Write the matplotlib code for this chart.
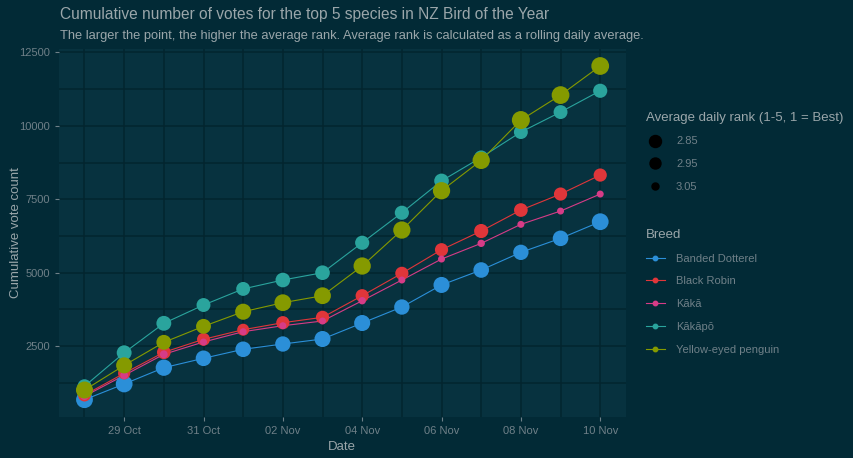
import numpy as np
import pandas as pd
import matplotlib
matplotlib.use("Agg")
import matplotlib.pyplot as plt
import matplotlib.dates as mdates
from matplotlib.lines import Line2D

BG = "#022a36"; PANEL = "#07323f"; GRID = "#03252f"
TXT = "#9aa6aa"; TICK = "#6f8088"

dates = pd.date_range("2019-10-28", "2019-11-10", freq="D")
breeds = ["Banded Dotterel", "Black Robin", "Kākā", "Kākāpō", "Yellow-eyed penguin"]
colors = ["#2b8fd8", "#e0363a", "#d63c87", "#2aa49d", "#859a00"]

votes_dotterel = [670, 1206, 1761, 2081, 2388, 2568, 2738, 3283, 3828, 4580, 5089, 5691, 6168, 6734]
votes_robin = [830, 1570, 2285, 2728, 3055, 3294, 3477, 4213, 4976, 5780, 6417, 7132, 7677, 8324]
votes_kaka = [790, 1500, 2217, 2636, 2987, 3191, 3351, 4043, 4748, 5463, 5998, 6645, 7098, 7677]
votes_kakapo = [1130, 2270, 3273, 3896, 4445, 4748, 4997, 6018, 7040, 8125, 8926, 9789, 10470, 11196]
votes_penguin = [1000, 1840, 2626, 3170, 3668, 3975, 4213, 5225, 6451, 7790, 8824, 10198, 11049, 12040]

rank_dotterel = [2.65, 2.65, 2.67, 2.70, 2.70, 2.71, 2.68, 2.68, 2.71, 2.68, 2.70, 2.71, 2.70, 2.65]
rank_robin = [2.81, 2.84, 2.78, 2.81, 2.85, 2.80, 2.80, 2.80, 2.80, 2.80, 2.76, 2.78, 2.80, 2.80]
rank_kaka = [3.03, 3.03, 3.03, 3.05, 3.05, 3.05, 3.05, 3.04, 3.05, 3.05, 3.04, 3.05, 3.05, 3.05]
rank_kakapo = [2.77, 2.73, 2.73, 2.77, 2.77, 2.74, 2.74, 2.76, 2.76, 2.74, 2.77, 2.77, 2.77, 2.76]
rank_penguin = [2.64, 2.68, 2.73, 2.73, 2.68, 2.65, 2.65, 2.63, 2.63, 2.63, 2.63, 2.60, 2.61, 2.61]

votes = [votes_dotterel, votes_robin, votes_kaka, votes_kakapo, votes_penguin]
ranks = [rank_dotterel, rank_robin, rank_kaka, rank_kakapo, rank_penguin]
rank_breaks = [2.85, 2.95, 3.05]

DPI = 100
def diam(r):
    # reversed size scale: lower (better) rank -> bigger point, in pixels
    return np.interp(r, [2.60, 2.85, 2.95, 3.05], [18, 12, 11, 7])
def area(r):
    return (diam(np.asarray(r)) * 72 / DPI) ** 2

plt.rcParams["font.family"] = ["Liberation Sans", "DejaVu Sans"]
fig = plt.figure(figsize=(8.54, 4.58), dpi=DPI, facecolor=BG)
ax = fig.add_axes([58.7 / 854, 41.3 / 458, 567.3 / 854, 367.4 / 458])
ax.set_facecolor(PANEL)
for s in ax.spines.values():
    s.set_visible(False)

for v, c in zip(votes, colors):
    ax.plot(dates, v, color=c, lw=0.8, zorder=2)
for v, r, c in zip(votes, ranks, colors):
    ax.scatter(dates, v, s=area(r), color=c, edgecolors="none", zorder=3)

span = (dates[-1] - dates[0]) * 0.05
ax.set_xlim(dates[0] - span, dates[-1] + span)
lo, hi = 660, 12040
ax.set_ylim(lo - 0.05 * (hi - lo), hi + 0.05 * (hi - lo))
ax.set_yticks([2500, 5000, 7500, 10000, 12500])
ax.set_yticks([1250, 3750, 6250, 8750, 11250], minor=True)
ax.xaxis.set_major_locator(mdates.DayLocator(bymonthday=[29, 31, 2, 4, 6, 8, 10]))
ax.xaxis.set_minor_locator(mdates.DayLocator(bymonthday=[28, 30, 1, 3, 5, 7, 9]))
ax.xaxis.set_major_formatter(mdates.DateFormatter("%d %b"))
ax.grid(True, which="both", color=GRID, lw=1.1, zorder=0)
ax.set_axisbelow(True)
ax.tick_params(which="major", length=3, color=TICK, labelcolor=TICK, labelsize=8)
ax.tick_params(which="minor", length=0)
ax.tick_params(axis="x", pad=4)

ax.set_xlabel("Date", color=TXT, fontsize=9.5, labelpad=3)
ax.set_ylabel("Cumulative vote count", color=TXT, fontsize=9.5)
ax.yaxis.set_label_coords(-0.065, 0.5)

fig.text(60 / 854, 1 - 15 / 458, "Cumulative number of votes for the top 5 species in NZ Bird of the Year",
         color=TXT, fontsize=11.2, va="center", ha="left")
fig.text(60 / 854, 1 - 36 / 458, "The larger the point, the higher the average rank. Average rank is calculated as a rolling daily average.",
         color=TXT, fontsize=9.27, va="center", ha="left")

# size legend
size_handles = [Line2D([], [], ls="none", marker="o", color="black",
                       markersize=diam(r) * 72 / DPI) for r in rank_breaks]
leg_kw = dict(loc="upper left", frameon=False, fontsize=8, title_fontsize=9.5,
              labelcolor=TICK, handlelength=1.7, handletextpad=1.0,
              labelspacing=1.15, alignment="left")
leg1 = fig.legend(size_handles, [f"{r:.2f}" for r in rank_breaks],
                  title="Average daily rank (1-5, 1 = Best)",
                  bbox_to_anchor=(636 / 854, 1 - 102 / 458), **leg_kw)
leg1.get_title().set_color(TXT)
leg1._legend_box.sep = 9

breed_handles = [Line2D([], [], color=c, lw=0.8, marker="o", markersize=3.2) for c in colors]
leg2 = fig.legend(breed_handles, breeds, title="Breed",
                  bbox_to_anchor=(636 / 854, 1 - 219 / 458), **leg_kw)
leg2.get_title().set_color(TXT)
leg2._legend_box.sep = 9

fig.savefig("out.png", dpi=DPI, facecolor=BG)
